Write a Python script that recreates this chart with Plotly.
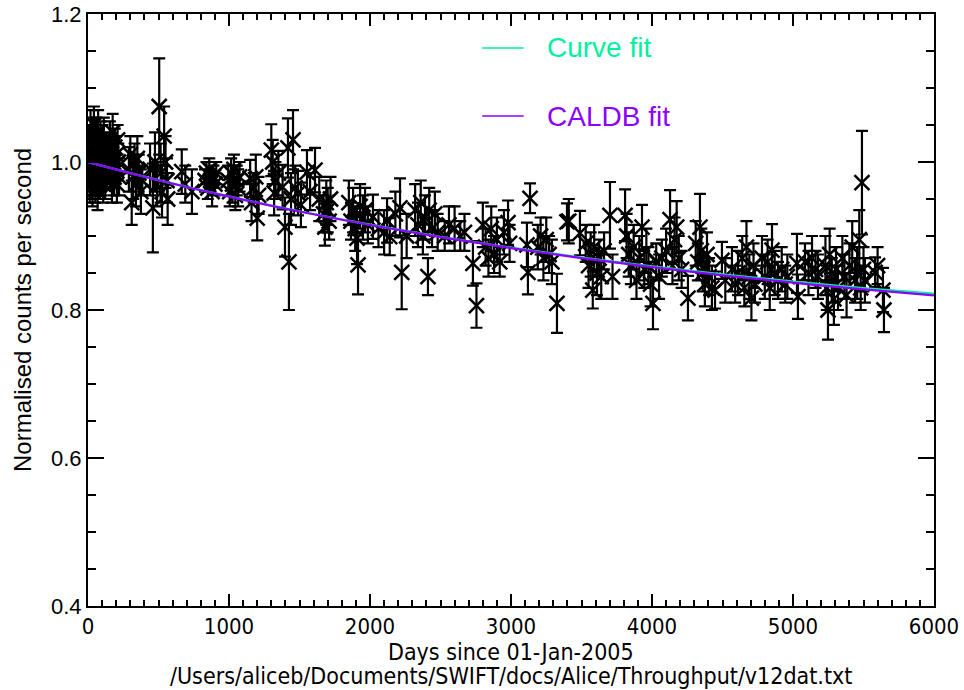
import plotly.graph_objects as go

# ---- data ----
days = [5,8,12,15,18,22,25,28,32,35,38,42,45,48,52,55,58,62,65,68,72,75,78,82,85,88,92,95,98,102,105,108,112,115,118,122,125,128,135,142,
        155,160,165,170,175,180,185,190,195,200,205,210,215,220,
        290,300,310,320,330,340,350,360,375,385,
        440,460,475,490,505,515,525,540,550,560,565,
        665,690,737,
        830,840,850,860,870,880,890,900,910,
        995,1005,1015,1025,1035,1045,1055,1065,1075,
        1150,1160,1175,1190,1200,1210,
        1300,1310,1320,1330,1350,1380,1397,1418,1425,1440,1454,1470,1489,1510,
        1553,1575,1610,1640,1670,1680,1690,1700,1710,1720,
        1850,1865,1880,1895,1908,1915,1930,1950,1965,1985,
        2021,2060,2100,2121,2140,2180,2213,2225,2260,
        2320,2340,2360,2375,2390,2411,2420,2440,2460,2480,2530,2560,2600,2640,2670,
        2730,2755,2800,2820,2840,2860,2880,2900,2920,2950,2979,2990,
        3113,3120,3135,3190,3210,3230,3250,3270,3290,3326,
        3397,3410,3489,3530,3550,3565,3580,3590,3610,3625,3640,3660,3702,3720,
        3809,3820,3835,3850,3870,3890,3910,3929,3945,3960,3975,3990,4007,4030,4050,4070,
        4100,4128,4145,4160,4175,4190,4210,4255,4310,4325,4340,4350,4360,4375,4390,4405,4425,4447,
        4496,4520,4567,4590,4610,4640,4655,4670,4690,4705,4720,4730,4780,4800,4820,4835,4851,4870,4894,4920,4945,4960,
        5028,5035,5085,5110,5135,5160,5177,5230,5240,5248,5260,5275,5290,5305,5319,5350,5365,5380,5400,5420,5440,5455,5470,5480,5489,5500,5510,5582,5600,5638,5645]

counts = [0.99,1.02,0.97,1.01,1.04,0.98,1.00,1.03,0.96,1.01,0.99,1.05,0.98,1.02,0.97,1.00,1.03,0.99,1.01,0.96,1.04,0.98,1.02,1.00,0.97,1.03,0.99,1.01,0.98,1.02,1.00,0.97,1.03,0.99,1.01,0.98,1.02,1.00,0.99,1.01,
          1.03,0.99,1.01,0.97,1.04,1.00,0.98,1.02,0.99,1.01,0.97,1.03,1.00,0.98,
          0.99,1.01,0.945,0.98,1.00,0.97,1.005,0.985,0.96,0.975,
          0.99,0.938,1.00,0.97,1.075,0.985,0.96,1.035,1.00,0.975,0.95,
          0.987,0.97,0.96,
          0.975,0.985,0.965,0.99,0.975,0.96,0.98,0.97,0.985,
          0.975,0.96,0.985,0.97,0.99,0.955,0.975,0.965,0.98,
          0.978,0.945,0.965,0.98,0.924,0.955,
          1.016,1.00,0.958,0.975,0.985,0.966,0.912,1.019,0.865,0.95,1.03,0.965,0.958,0.942,
          0.986,0.96,0.989,0.95,0.93,0.912,0.945,0.935,0.92,0.95,
          0.945,0.92,0.935,0.91,0.897,0.861,0.94,0.925,0.935,0.915,
          0.926,0.91,0.905,0.921,0.899,0.93,0.938,0.851,0.90,
          0.935,0.915,0.945,0.90,0.925,0.845,0.935,0.91,0.93,0.905,0.90,0.915,0.91,0.90,0.905,
          0.863,0.806,0.915,0.885,0.87,0.91,0.875,0.895,0.865,0.905,0.918,0.89,
          0.888,0.851,0.951,0.885,0.90,0.87,0.895,0.875,0.865,0.809,
          0.919,0.92,0.904,0.89,0.86,0.875,0.827,0.885,0.85,0.87,0.845,0.88,0.928,0.845,
          0.928,0.90,0.875,0.86,0.885,0.84,0.87,0.912,0.855,0.88,0.86,0.835,0.809,0.865,0.845,0.87,
          0.88,0.922,0.86,0.895,0.912,0.87,0.855,0.816,0.89,0.865,0.912,0.88,0.85,0.835,0.875,0.845,0.83,0.827,
          0.867,0.84,0.855,0.835,0.85,0.87,0.83,0.885,0.845,0.816,0.86,0.835,0.87,0.845,0.865,0.83,0.881,0.85,0.84,0.855,0.835,0.845,
          0.863,0.818,0.865,0.85,0.87,0.855,0.845,0.86,0.83,0.80,0.875,0.84,0.815,0.855,0.83,0.87,0.845,0.82,0.86,0.885,0.84,0.85,0.895,0.83,0.972,0.855,0.84,0.851,0.86,0.827,0.80]

errors = [0.025,0.03,0.025,0.02,0.03,0.025,0.02,0.03,0.02,0.025,0.03,0.025,0.02,0.03,0.025,0.02,0.03,0.025,0.02,0.025,0.03,0.02,0.025,0.03,0.02,0.025,0.03,0.02,0.025,0.03,0.02,0.025,0.03,0.02,0.025,0.03,0.02,0.025,0.025,0.025,
          0.025,0.025,0.02,0.025,0.025,0.02,0.025,0.025,0.02,0.025,0.025,0.02,0.025,0.025,
          0.03,0.025,0.03,0.03,0.025,0.03,0.03,0.025,0.03,0.02,
          0.035,0.06,0.04,0.03,0.065,0.04,0.035,0.04,0.035,0.03,0.035,
          0.03,0.025,0.03,
          0.015,0.015,0.015,0.015,0.015,0.02,0.015,0.015,0.015,
          0.02,0.02,0.02,0.025,0.02,0.02,0.02,0.025,0.02,
          0.025,0.025,0.02,0.03,0.03,0.025,
          0.035,0.03,0.03,0.025,0.03,0.03,0.04,0.04,0.065,0.035,0.04,0.03,0.03,0.03,
          0.03,0.025,0.03,0.03,0.025,0.025,0.03,0.03,0.025,0.03,
          0.03,0.025,0.03,0.03,0.035,0.04,0.03,0.03,0.03,0.025,
          0.03,0.025,0.03,0.03,0.025,0.03,0.04,0.05,0.03,
          0.035,0.03,0.03,0.025,0.03,0.025,0.03,0.025,0.03,0.025,0.02,0.025,0.03,0.02,0.025,
          0.03,0.03,0.03,0.025,0.025,0.03,0.025,0.03,0.02,0.03,0.03,0.025,
          0.03,0.03,0.02,0.03,0.025,0.03,0.03,0.025,0.03,0.04,
          0.025,0.03,0.03,0.025,0.03,0.03,0.025,0.03,0.03,0.025,0.03,0.025,0.045,0.03,
          0.035,0.03,0.03,0.025,0.03,0.025,0.03,0.03,0.025,0.03,0.025,0.03,0.035,0.025,0.03,0.025,
          0.03,0.04,0.025,0.03,0.035,0.03,0.025,0.03,0.03,0.025,0.045,0.03,0.025,0.03,0.03,0.025,0.03,0.025,
          0.025,0.03,0.03,0.025,0.03,0.03,0.025,0.035,0.03,0.03,0.03,0.025,0.03,0.03,0.03,0.03,0.035,0.03,0.025,0.03,0.025,0.03,
          0.04,0.03,0.025,0.03,0.03,0.025,0.03,0.04,0.03,0.04,0.035,0.03,0.035,0.03,0.03,0.03,0.03,0.03,0.03,0.035,0.03,0.035,0.04,0.03,0.07,0.03,0.03,0.02,0.025,0.03,0.03]

fit_days = [0, 500, 1000, 1500, 2000, 2500, 3000, 3500, 4000, 4500, 5000, 5500, 6000]
curve_fit = [1.000, 0.9756, 0.9535, 0.9335, 0.9153, 0.8990, 0.8842, 0.8709, 0.8589, 0.8481, 0.8384, 0.8297, 0.8220]
caldb_fit = [1.000, 0.9754, 0.9532, 0.9331, 0.9149, 0.8985, 0.8836, 0.8701, 0.8579, 0.8469, 0.8369, 0.8279, 0.8197]

x_ticks = [0, 1000, 2000, 3000, 4000, 5000, 6000]
y_ticks = [0.4, 0.6, 0.8, 1.0, 1.2]
y_tick_labels = ["0.4", "0.6", "0.8", "1.0", "1.2"]

TEAL = "rgb(0,240,160)"
PURPLE = "rgb(140,0,255)"
FONT = "Liberation Sans, Arial, sans-serif"
NARROW = "DejaVu Sans Condensed, Liberation Sans Narrow, Liberation Sans, sans-serif"

fig = go.Figure()
fig.add_trace(go.Scatter(
    x=days, y=counts, mode="markers",
    marker=dict(symbol="x-thin-open", size=15, color="black", line=dict(color="black", width=2.5)),
    error_y=dict(type="data", array=errors, visible=True, color="black", thickness=2.2, width=6),
    showlegend=False))
fig.add_trace(go.Scatter(x=fit_days, y=curve_fit, mode="lines",
                         line=dict(color=TEAL, width=2.2, shape="spline"), showlegend=False))
fig.add_trace(go.Scatter(x=fit_days, y=caldb_fit, mode="lines",
                         line=dict(color=PURPLE, width=2.2, shape="spline"), showlegend=False))

axis_common = dict(showgrid=False, zeroline=False, showline=True, linecolor="black", linewidth=2,
                   mirror="allticks", ticks="inside", tickcolor="black", tickwidth=2, automargin=False)

fig.update_xaxes(range=[0, 6000], tickvals=x_ticks, ticklen=12,
                 tickfont=dict(family=NARROW, size=22, color="black"),
                 minor=dict(ticks="inside", dtick=100, ticklen=6, tickcolor="black", tickwidth=1.5, showgrid=False),
                 **axis_common)
fig.update_yaxes(range=[0.4, 1.2], tickvals=y_ticks, ticktext=y_tick_labels, ticklen=16,
                 tickfont=dict(family=FONT, size=22, color="black"),
                 minor=dict(ticks="inside", dtick=0.05, ticklen=8, tickcolor="black", tickwidth=1.5, showgrid=False),
                 **axis_common)

# y-axis title
fig.add_annotation(xref="paper", yref="paper", x=-0.078, y=0.5, textangle=-90, showarrow=False,
                   xanchor="center", yanchor="middle", text="Normalised counts per second",
                   font=dict(family=FONT, size=24, color="black"))

# legend (drawn as lines + labels in paper space)
legend_items = [("Curve fit", TEAL, 0.9426), ("CALDB fit", PURPLE, 0.8277)]
for label, col, yp in legend_items:
    fig.add_shape(type="line", xref="paper", yref="paper", x0=0.466, x1=0.515, y0=yp, y1=yp,
                  line=dict(color=col, width=1.5))
    fig.add_annotation(xref="paper", yref="paper", x=0.540, y=yp, text=label, showarrow=False,
                       xanchor="left", yanchor="middle", font=dict(family=FONT, size=28, color=col))

# x-axis titles
fig.add_annotation(xref="paper", yref="paper", x=0.5, y=-0.078, yanchor="middle", showarrow=False,
                   text="Days since 01-Jan-2005", font=dict(family=NARROW, size=23, color="black"))
fig.add_annotation(xref="paper", yref="paper", x=0.5, y=-0.119, yanchor="middle", showarrow=False,
                   text="/Users/aliceb/Documents/SWIFT/docs/Alice/Throughput/v12dat.txt",
                   font=dict(family=NARROW, size=23, color="black"))

fig.update_layout(width=964, height=690, margin=dict(l=88, r=30, t=14, b=84),
                  paper_bgcolor="white", plot_bgcolor="white", showlegend=False)

fig.write_html("out.html")
